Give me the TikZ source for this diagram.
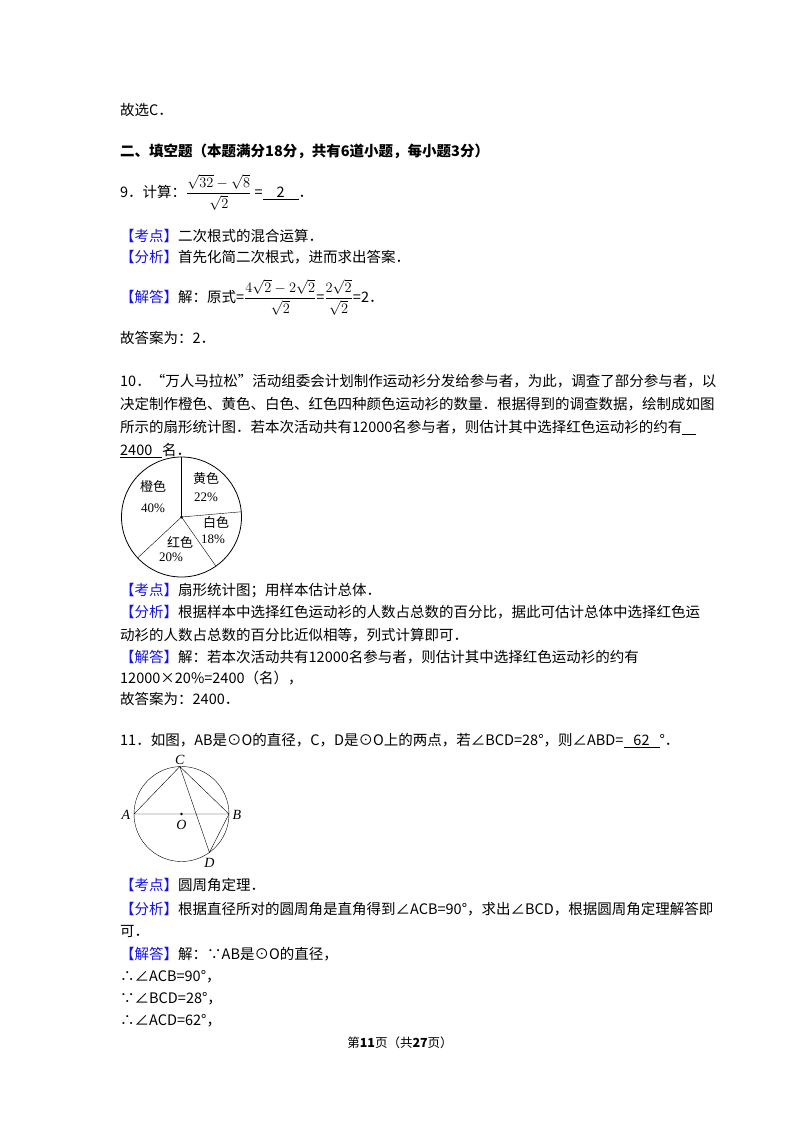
\documentclass[tikz,border=0pt]{standalone}
\usepackage{amsmath}
\usepackage{fontspec}
\usetikzlibrary{calc}
\setmainfont{Noto Sans CJK SC}
\newfontfamily\lat{Liberation Serif}
\definecolor{kblue}{RGB}{20,20,230}
\newcommand{\kw}[1]{\textcolor{kblue}{【#1】}}
\newcommand{\blank}[2]{\underline{\makebox[#1][c]{#2}}}
\begin{document}
\begin{tikzpicture}[x=1pt,y=-1pt,
  ln/.style={anchor=base west,inner sep=0pt,font=\fontsize{14.5}{18}\selectfont},
  lb/.style={inner sep=0pt,font=\fontsize{13}{15}\selectfont},
  pt/.style={inner sep=0pt,font=\lat\itshape\fontsize{14}{16}\selectfont}]
\useasboundingbox[fill=white] (0,0) rectangle (800,1132);
\node[ln] (l1) at (120,115) {故选C．};
\node[ln] (l2) at (120,156) {\textbf{二、填空题（本题满分18分，共有6道小题，每小题3分）}};
\node[ln] (l3) at (120,197) {9．计算：$\dfrac{\sqrt{32}-\sqrt{8}}{\sqrt{2}}$ =\blank{36pt}{2}．};
\node[ln] (l4) at (120,241) {\kw{考点}二次根式的混合运算．};
\node[ln] (l5) at (120,262) {\kw{分析}首先化简二次根式，进而求出答案．};
\node[ln] (l6) at (120,302) {\kw{解答}解：原式=$\dfrac{4\sqrt{2}-2\sqrt{2}}{\sqrt{2}}$=$\dfrac{2\sqrt{2}}{\sqrt{2}}$=2．};
\node[ln] (l7) at (120,343) {故答案为：2．};
\node[ln] (l8) at (120,386) {10．“万人马拉松”活动组委会计划制作运动衫分发给参与者，为此，调查了部分参与者，以};
\node[ln] (l9) at (120,409) {决定制作橙色、黄色、白色、红色四种颜色运动衫的数量．根据得到的调查数据，绘制成如图};
\node[ln] (l10) at (120,432) {所示的扇形统计图．若本次活动共有12000名参与者，则估计其中选择红色运动衫的约有\blank{14pt}{}};
\node[ln] (l11) at (120,455) {\blank{42pt}{2400\hfill}名．};
% pie (angles negated because y axis points down)
\coordinate (pc) at (181.5,517);
\draw[thick] (pc) circle (60);
\draw (pc) -- ++(-90:60) coordinate (p1);
\draw (pc) -- ++(-5:60) coordinate (p2);
\draw (pc) -- ++(55:60) coordinate (p3);
\draw (pc) -- ++(137:60) coordinate (p4);
\fill (pc) circle (1.5);
\node[lb] (o1) at (153,487) {橙色};
\node[lb] (o2) at (153,508) {\lat 40\%};
\node[lb] (y1) at (206,479) {黄色};
\node[lb] (y2) at (206,497) {\lat 22\%};
\node[lb] (w1) at (216,523) {白色};
\node[lb] (w2) at (213,539) {\lat 18\%};
\node[lb] (r1) at (180,542) {红色};
\node[lb] (r2) at (171,557) {\lat 20\%};
\node[ln] (l12) at (120,595) {\kw{考点}扇形统计图；用样本估计总体．};
\node[ln] (l13) at (120,617) {\kw{分析}根据样本中选择红色运动衫的人数占总数的百分比，据此可估计总体中选择红色运};
\node[ln] (l14) at (120,640) {动衫的人数占总数的百分比近似相等，列式计算即可．};
\node[ln] (l15) at (120,662) {\kw{解答}解：若本次活动共有12000名参与者，则估计其中选择红色运动衫的约有};
\node[ln] (l16) at (120,683) {12000×20\%=2400（名），};
\node[ln] (l17) at (120,704) {故答案为：2400．};
\node[ln] (l18) at (120,745) {11．如图，AB是⊙O的直径，C，D是⊙O上的两点，若∠BCD=28°，则∠ABD=\blank{36pt}{62}°．};
% circle
\coordinate (O) at (181.5,814);
\coordinate (A) at ($(O)+(180:47.5)$);
\coordinate (B) at ($(O)+(0:47.5)$);
\coordinate (C) at ($(O)+(-92:47.5)$);
\coordinate (D) at ($(O)+(54:47.5)$);
\draw (O) circle (47.5);
\draw (A) -- (B) (A) -- (C) -- (B) -- (D) -- (C);
\fill (O) circle (1.3);
\node[pt] (tC) at ($(C)+(0,-7)$) {C};
\node[pt] (tA) at ($(A)+(-8,1)$) {A};
\node[pt] (tB) at ($(B)+(8,1)$) {B};
\node[pt] (tO) at ($(O)+(0,11)$) {O};
\node[pt] (tD) at ($(D)+(0,10)$) {D};
\node[ln] (l19) at (120,890) {\kw{考点}圆周角定理．};
\node[ln] (l20) at (120,914) {\kw{分析}根据直径所对的圆周角是直角得到∠ACB=90°，求出∠BCD，根据圆周角定理解答即};
\node[ln] (l21) at (120,936) {可．};
\node[ln] (l22) at (120,959) {\kw{解答}解：∵AB是⊙O的直径，};
\node[ln] (l23) at (120,981) {∴∠ACB=90°，};
\node[ln] (l24) at (120,1003) {∵∠BCD=28°，};
\node[ln] (l25) at (120,1025) {∴∠ACD=62°，};
\node[inner sep=0pt,font=\fontsize{12.5}{14}\selectfont] (ft) at (400,1043) {第\textbf{11}页（共\textbf{27}页）};
\end{tikzpicture}
\end{document}
